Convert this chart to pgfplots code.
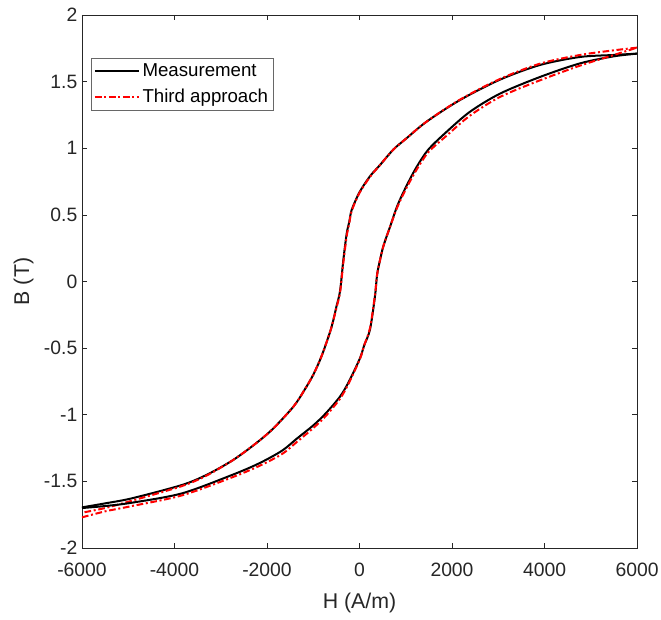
\documentclass[border=0pt]{standalone}
\usepackage{pgfplots}
\pgfplotsset{compat=1.18}
\usepackage{fontspec}
\setmainfont{Liberation Sans}
\definecolor{axgray}{HTML}{262626}
\definecolor{mred}{HTML}{FF0000}
\begin{document}
\begin{tikzpicture}
\begin{axis}[
  scale only axis,
  width=416.25pt, height=399.75pt,
  xmin=-6000, xmax=6000, ymin=-2, ymax=2,
  xtick={-6000,-4000,-2000,0,2000,4000,6000},
  ytick={-2,-1.5,-1,-0.5,0,0.5,1,1.5,2},
  xticklabels={-6000,-4000,-2000,0,2000,4000,6000},
  yticklabels={-2,-1.5,-1,-0.5,0,0.5,1,1.5,2},
  scaled x ticks=false,
  tick align=inside,
  major tick length=4pt,
  axis line style={axgray, line width=0.6pt},
  tick style={axgray, line width=0.5pt},
  every tick label/.append style={text=axgray, font=\fontsize{14.5}{16}\selectfont},
  xticklabel style={yshift=-8pt},
  yticklabel style={xshift=0pt},
  xlabel={H (A/m)}, ylabel={B (T)},
  label style={text=axgray, font=\fontsize{16}{18}\selectfont},
  xlabel style={yshift=-5pt},
  ylabel style={yshift=1pt},
  legend style={at={(0.016,0.919)}, anchor=north west, draw=axgray!70, line width=0.5pt,
    font=\fontsize{14}{16}\selectfont, inner sep=2pt, row sep=4pt,
    legend cell align=left},
  legend image code/.code={\draw[#1] (0pt,0pt) -- (33pt,0pt);},
]
\addplot[black, line width=1.5pt, smooth, tension=0.5] coordinates {
(6000,1.71)(5500,1.70)(4768,1.685)(3903,1.625)(3038,1.515)(2173,1.362)(1452,1.20)(1000,1.07)(731,0.99)(443,0.874)(227,0.79)(0,0.67)(-169,0.537)(-220,0.45)(-277,0.36)(-350,0.16)(-420,-0.07)(-500,-0.19)(-566,-0.29)(-638,-0.38)(-820,-0.56)(-1000,-0.70)(-1200,-0.82)(-1431,-0.94)(-1885,-1.11)(-2296,-1.23)(-2757,-1.345)(-3300,-1.45)(-3838,-1.527)(-4919,-1.627)(-5500,-1.665)(-6000,-1.695)
};
\addlegendentry{Measurement}
\addplot[mred, line width=1.5pt, dash pattern=on 5pt off 2pt on 1.5pt off 2pt, smooth, tension=0.5] coordinates {
(6000,1.755)(5500,1.735)(4768,1.70)(3903,1.635)(3038,1.52)(2173,1.365)(1452,1.20)(1000,1.07)(731,0.99)(443,0.874)(227,0.785)(0,0.665)(-169,0.53)(-220,0.44)(-277,0.34)(-350,0.14)(-420,-0.08)(-500,-0.2)(-566,-0.29)(-638,-0.38)(-820,-0.56)(-1000,-0.70)(-1200,-0.82)(-1431,-0.94)(-1885,-1.11)(-2296,-1.23)(-2757,-1.345)(-3300,-1.455)(-3838,-1.535)(-4919,-1.645)(-5500,-1.70)(-6000,-1.735)
};
\addlegendentry{Third approach}
\addplot[black, line width=1.5pt, smooth, tension=0.5, forget plot] coordinates {
(-6000,-1.70)(-5500,-1.685)(-4919,-1.66)(-3838,-1.59)(-2757,-1.452)(-2173,-1.365)(-1676,-1.27)(-1358,-1.18)(-1000,-1.08)(-731,-0.99)(-422,-0.864)(-227,-0.75)(11,-0.575)(100,-0.48)(227,-0.36)(335,-0.11)(380,0.05)(443,0.16)(520,0.27)(660,0.41)(820,0.57)(1020,0.72)(1236,0.86)(1488,0.99)(1885,1.124)(2389,1.274)(3038,1.41)(3903,1.535)(4768,1.637)(5500,1.69)(6000,1.71)
};
\addplot[mred, line width=1.5pt, dash pattern=on 5pt off 2pt on 1.5pt off 2pt, smooth, tension=0.5, forget plot] coordinates {
(-6000,-1.77)(-5500,-1.725)(-4919,-1.685)(-3838,-1.605)(-2757,-1.47)(-2173,-1.385)(-1676,-1.295)(-1358,-1.205)(-1000,-1.10)(-731,-1.01)(-422,-0.88)(-227,-0.76)(11,-0.58)(100,-0.48)(227,-0.35)(335,-0.1)(380,0.05)(443,0.16)(520,0.27)(660,0.41)(820,0.56)(1020,0.705)(1236,0.84)(1488,0.97)(1885,1.095)(2389,1.245)(3038,1.385)(3903,1.51)(4768,1.62)(5500,1.70)(6000,1.755)
};
\end{axis}
\pgfresetboundingbox
\path[use as bounding box] (-61.5pt,-53.25pt) rectangle (434.25pt,411pt);
\end{tikzpicture}
\end{document}
